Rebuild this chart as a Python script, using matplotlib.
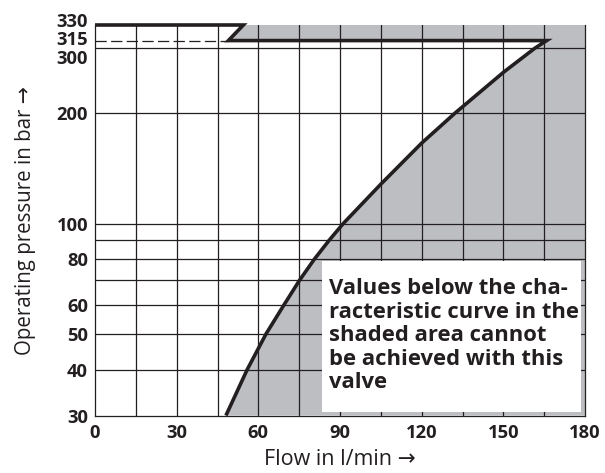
import numpy as np
import matplotlib
matplotlib.use("Agg")
import matplotlib.pyplot as plt
import matplotlib.transforms as mtransforms
from matplotlib.patches import Rectangle

plt.rcParams["font.family"] = ["Open Sans", "DejaVu Sans"]

INK = "#231f20"
SHADE = "#bdbec2"

# characteristic curve (flow l/min, pressure bar)
curve_flow = [48.1, 55.9, 62.8, 69.4, 75.1, 80.6, 86.0, 91.2, 105, 120, 132.3, 150, 161.5, 165.9]
curve_pressure = [30, 40, 50, 60, 70, 80, 90, 100, 128, 165.6, 200, 258, 300, 315]

# max pressure line (330 bar) stepping down to the 315 bar setting
step_flow = [0, 54.5, 49.0]
step_pressure = [330, 330, 315]

x_ticks = [0, 30, 60, 90, 120, 150, 180]
y_ticks = [30, 40, 50, 60, 80, 100, 200, 300, 315, 330]
y_grid = [40, 50, 60, 70, 80, 90, 100, 200, 300]
x_grid = [15, 30, 45, 60, 75, 90, 105, 120, 135, 150, 165]
note = ("Values below the cha-\nracteristic curve in the\nshaded area cannot\n"
        "be achieved with this\nvalve")

# the source chart is logarithmic, with the band above 315 bar drawn stretched
L315, K = np.log10(315), 2.1


def fwd(v):
    lv = np.log10(np.clip(np.asarray(v, float), 1e-9, None))
    return np.where(lv > L315, L315 + K * (lv - L315), lv)


def inv(u):
    u = np.asarray(u, float)
    return np.where(u > L315, 10 ** (L315 + (u - L315) / K), 10 ** u)


fig = plt.figure(figsize=(6.05, 4.73), dpi=100)
ax = fig.add_axes([95 / 605, 1 - 415.5 / 473, 490 / 605, 390.5 / 473])
ax.set_yscale("function", functions=(fwd, inv))
ax.set_xlim(0, 180)
ax.set_ylim(30, 330)

# shaded region: right of the curve and above the 315 bar line
shade_x = [step_flow[1], 180, 180] + curve_flow + [step_flow[2]]
shade_y = [step_pressure[1], 330, 30] + curve_pressure + [step_pressure[2]]
ax.fill(shade_x, shade_y, color=SHADE, lw=0, zorder=1)

for y in y_grid:
    ax.axhline(y, color=INK, lw=0.9, zorder=2)
for x in x_grid:
    ax.axvline(x, color=INK, lw=0.9, zorder=2)

ax.plot([0, step_flow[2]], [315, 315], color=INK, lw=0.9, dashes=(9, 3.5), zorder=2)
ax.plot(step_flow + curve_flow[::-1], step_pressure + curve_pressure[::-1],
        color=INK, lw=2.6, solid_joinstyle="miter", solid_capstyle="butt",
        clip_on=False, zorder=3)

ax.add_patch(Rectangle((0.463, 0.009), 0.529, 0.3866, transform=ax.transAxes,
                       fc="white", ec="none", zorder=4))
ax.text(0.4776, 0.352, note, transform=ax.transAxes, ha="left", va="top",
        fontsize=15.8, fontweight="bold", color=INK, linespacing=1.16, zorder=5)

ax.set_xticks(x_ticks)
ax.set_xticklabels([str(v) for v in x_ticks])
ax.set_yticks(y_ticks)
ax.set_yticklabels([str(v) for v in y_ticks])
ax.minorticks_off()
ax.tick_params(length=0, labelsize=13.2, colors=INK)
ax.tick_params(axis="y", pad=5)
ax.tick_params(axis="x", pad=6)
for lab in ax.get_xticklabels() + ax.get_yticklabels():
    lab.set_fontweight("bold")

# spread the crowded labels at the top of the pressure axis
shift = {"330": 4.5, "315": 2.5, "300": -8.5}
for lab in ax.get_yticklabels():
    dy = shift.get(lab.get_text(), 0)
    if dy:
        lab.set_transform(lab.get_transform() +
                          mtransforms.ScaledTranslation(0, dy / 100, fig.dpi_scale_trans))

for side in ("left", "bottom", "right"):
    ax.spines[side].set_linewidth(0.9)
    ax.spines[side].set_color(INK)
ax.spines["top"].set_visible(False)

ax.set_xlabel("Flow in l/min →", fontsize=15.5, color=INK, labelpad=5)
ax.set_ylabel("Operating pressure in bar →", fontsize=14.8, color=INK, labelpad=15)

fig.savefig("out.png", dpi=100)
